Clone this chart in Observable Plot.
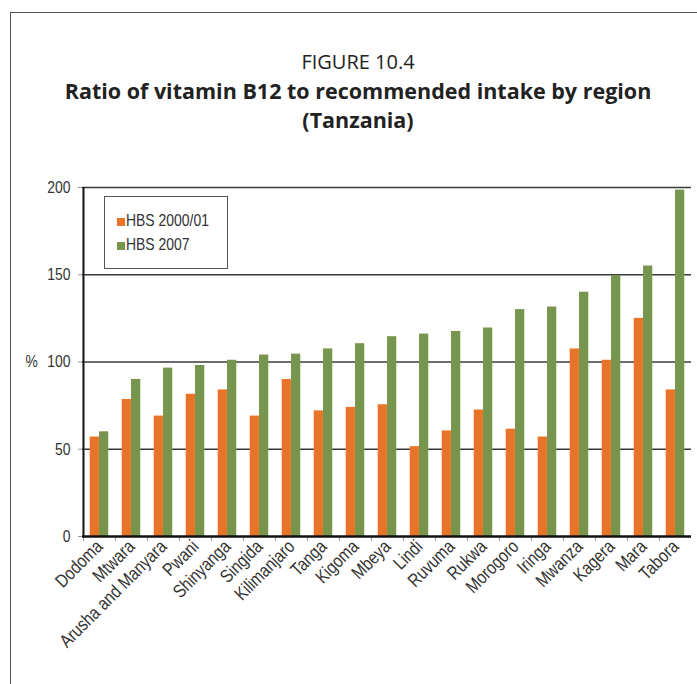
<!DOCTYPE html>
<html><head><meta charset="utf-8">
<script src="https://cdn.jsdelivr.net/npm/d3@7"></script>
<script src="https://cdn.jsdelivr.net/npm/@observablehq/plot@0.6"></script>
<style>
body{margin:0;background:#fff;width:697px;height:684px;overflow:hidden;position:relative;font-family:"Open Sans","Noto Sans",sans-serif}
#frame{position:absolute;left:10px;top:12px;right:-3px;bottom:-3px;border-left:1.5px solid #555;border-top:1.5px solid #555}
.t{position:absolute;left:10px;width:696px;text-align:center;color:#222;white-space:nowrap;line-height:1.2}
#t1{top:50px;font-size:20px}
#t2{top:78px;font-size:21.5px;font-weight:bold}
#t3{top:107px;font-size:21.5px;font-weight:bold}
#chart{position:absolute;left:0;top:150px}
#legend{position:absolute;left:104px;top:196px;width:122px;height:71px;border:1px solid #555;background:#fff;font-family:"Liberation Sans",Arial,sans-serif;font-size:17px;color:#333}
.li{position:absolute;left:12px;height:20px;line-height:20px;white-space:nowrap}
.sw{display:inline-block;width:8px;height:8px;margin-right:1px;vertical-align:0px}
.lt{display:inline-block;transform:scaleX(0.82);transform-origin:left center}
</style></head>
<body>
<div id="frame"></div>
<div class="t" id="t1">FIGURE 10.4</div>
<div class="t" id="t2">Ratio of vitamin B12 to recommended intake by region</div>
<div class="t" id="t3">(Tanzania)</div>
<div id="chart"></div>
<div id="legend"></div>
<script>
const regions = ["Dodoma","Mtwara","Arusha and Manyara","Pwani","Shinyanga","Singida","Kilimanjaro","Tanga","Kigoma","Mbeya","Lindi","Ruvuma","Rukwa","Morogoro","Iringa","Mwanza","Kagera","Mara","Tabora"];
const hbs2000 = [57,78.5,69,81.5,84,69,90,72,74,75.5,51.5,60.5,72.5,61.5,57,107.5,101,125,84];
const hbs2007 = [60,90,96.5,98,101,104,104.5,107.5,110.5,114.5,116,117.5,119.5,130,131.5,140,149.5,155,198.5];
const seriesNames = ["HBS 2000/01","HBS 2007"];
const seriesColors = ["#E97427","#77954C"];
const yTicks = [0,50,100,150,200];
const gridValues = [50,100,150,200];
const yLabel = "%";

const rows2000 = regions.map((r,i)=>({region:r, value:hbs2000[i]}));
const rows2007 = regions.map((r,i)=>({region:r, value:hbs2007[i]}));

const W = 697, H = 534, ML = 82, MR = 6;
const step = (W - ML - MR) / regions.length;
const barW = 9.3;
const outer = (step - 2*barW)/2;
const font = '"Liberation Sans",Arial,sans-serif';

const chart = Plot.plot({
  width: W, height: H,
  marginLeft: ML, marginRight: MR, marginTop: 37, marginBottom: 148,
  style: {fontFamily: font, fontSize: "17px", color: "#333", background: "transparent"},
  x: {domain: regions, padding: 0},
  y: {domain: [0,200]},
  marks: [
    Plot.ruleY(gridValues, {stroke:"#3a3a3a", strokeWidth:1.5}),
    Plot.barY(rows2000, {x:"region", y:"value", fill:seriesColors[0], insetLeft:outer, insetRight:outer+barW}),
    Plot.barY(rows2007, {x:"region", y:"value", fill:seriesColors[1], insetLeft:outer+barW, insetRight:outer}),
    Plot.axisX({tickSize:5, tickFormat:()=>"", dx:-step/2, stroke:"#999", label:null}),
    Plot.ruleY([0], {stroke:"#111", strokeWidth:2.5}),
    Plot.ruleX([regions[0]], {dx:-step/2, y1:0, y2:200, stroke:"#111", strokeWidth:2}),
    Plot.axisY({ticks:yTicks, tickSize:4, tickPadding:8, stroke:"#999", fill:"#333", fontSize:17, label:null, tickFormat:d=>String(d)}),
    Plot.axisX({tickSize:0, tickRotate:-45, tickPadding:7, fill:"#333", fontSize:18.5, label:null}),
    Plot.text([100], {y:d=>d, text:()=>yLabel, frameAnchor:"left", dx:-57, textAnchor:"start", fill:"#333", fontSize:17})
  ]
});
// condense axis tick labels (narrow face look)
const isNum = v => v != null && /^-?[\d.]+$/.test(v.trim());
function condense(sel, k) {
  chart.querySelectorAll(sel).forEach(t=>{
    let tr = t.getAttribute("transform") || "";
    let x = 0, y = 0;
    if (isNum(t.getAttribute("x"))) { x = +t.getAttribute("x"); t.removeAttribute("x"); }
    if (isNum(t.getAttribute("y"))) { y = +t.getAttribute("y"); t.removeAttribute("y"); }
    if (x || y) tr = `translate(${x},${y}) ` + tr;
    t.setAttribute("transform", tr + ` scale(${k},1)`);
  });
}
condense('g[aria-label="x-axis tick label"] text', 0.83);
condense('g[aria-label="y-axis tick label"] text, g[aria-label="text"] text', 0.82);
document.getElementById("chart").appendChild(chart);

const lg = document.getElementById("legend");
seriesNames.forEach((n,i)=>{
  const d = document.createElement("div");
  d.className = "li";
  d.style.top = (14 + i*24) + "px";
  d.innerHTML = `<span class="sw" style="background:${seriesColors[i]}"></span><span class="lt">${n}</span>`;
  lg.appendChild(d);
});
</script>
</body></html>
